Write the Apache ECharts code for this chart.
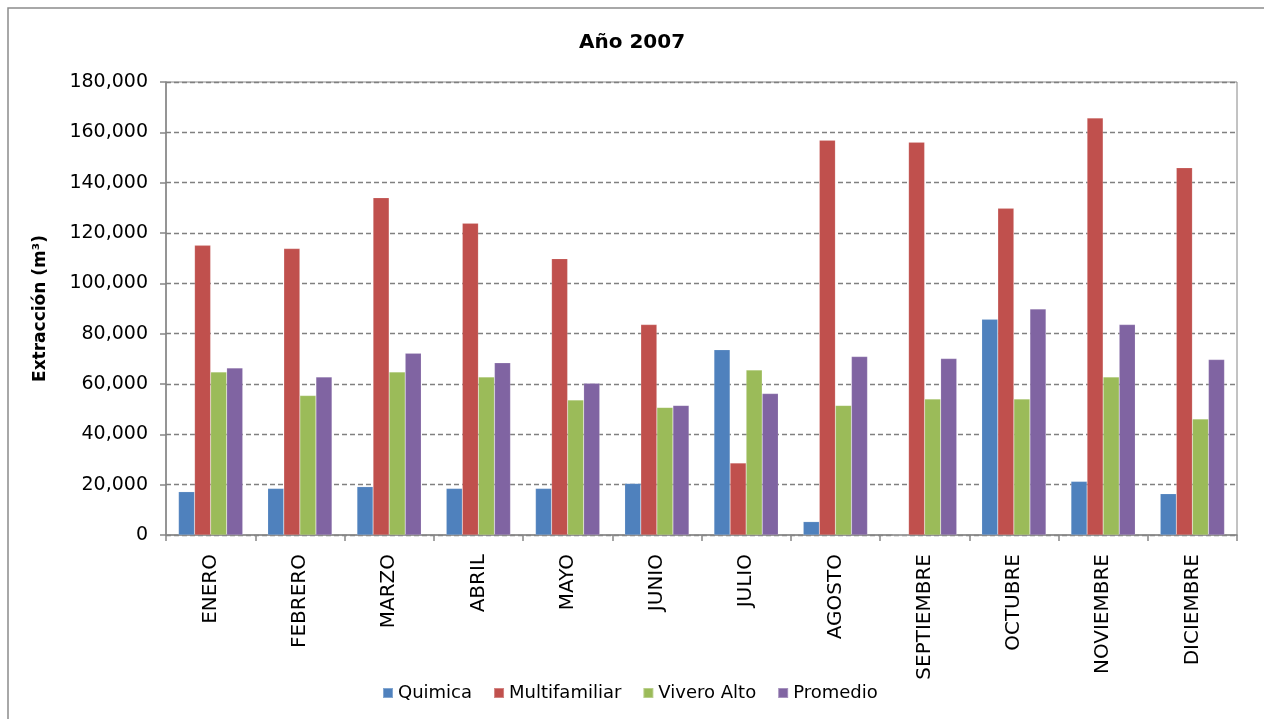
<!DOCTYPE html>
<html>
<head>
<meta charset="utf-8">
<script src="https://cdn.jsdelivr.net/npm/echarts@6/dist/echarts.min.js"></script>
<style>
html,body{margin:0;padding:0;background:#fff;}
#chart{width:1264px;height:719px;}
</style>
</head>
<body>
<div id="chart"></div>
<script>
const categories = ['ENERO','FEBRERO','MARZO','ABRIL','MAYO','JUNIO','JULIO','AGOSTO','SEPTIEMBRE','OCTUBRE','NOVIEMBRE','DICIEMBRE'];
const quimica      = [17200, 18500, 19200, 18500, 18500, 20500, 73600, 5300, 0, 85700, 21300, 16400];
const multifamiliar= [115100, 113800, 134000, 123900, 109800, 83600, 28600, 156900, 156100, 129800, 165700, 145900];
const viveroAlto   = [64800, 55400, 64800, 62800, 53650, 50700, 65600, 51500, 54000, 54000, 62800, 46100];
const promedio     = [66400, 62800, 72200, 68400, 60300, 51500, 56200, 70900, 70100, 89800, 83600, 69700];
const seriesNames  = ['Quimica','Multifamiliar','Vivero Alto','Promedio'];
const yTicks = { min: 0, max: 180000, interval: 20000 };

const FONT = 'DejaVu Sans';
const colors = ['#4F81BD','#C0504D','#9BBB59','#8064A2'];
const chart = echarts.init(document.getElementById('chart'), null, {renderer:'canvas'});
const dataSets = [quimica, multifamiliar, viveroAlto, promedio];

chart.setOption({
  animation: false,
  backgroundColor: '#ffffff',
  color: colors,
  title: {
    text: 'Año 2007',
    left: 'center',
    top: 28,
    textStyle: { fontFamily: FONT, fontWeight: 'bold', fontSize: 20, color: '#000' }
  },
  graphic: [{
    type: 'rect',
    shape: { x: 8, y: 8, width: 1400, height: 900 },
    style: { fill: 'none', stroke: '#8c8c8c', lineWidth: 1.5 },
    silent: true
  }],
  legend: {
    data: seriesNames,
    left: 377,
    top: 679,
    itemWidth: 10,
    itemHeight: 10,
    itemGap: 21,
    icon: 'rect',
    textStyle: { fontFamily: FONT, fontSize: 18, color: '#000' }
  },
  grid: {
    left: 166, right: 27, top: 82, bottom: 184,
    show: true, borderColor: '#868686', borderWidth: 1, backgroundColor: 'transparent'
  },
  xAxis: {
    type: 'category',
    data: categories,
    axisLine: { lineStyle: { color: '#868686', width: 1.5 } },
    axisTick: { show: true, alignWithLabel: false, length: 6, lineStyle: { color: '#868686', width: 1.5 } },
    axisLabel: { rotate: 90, margin: 19, fontFamily: FONT, fontSize: 20, color: '#000', interval: 0 }
  },
  yAxis: {
    type: 'value',
    min: yTicks.min, max: yTicks.max, interval: yTicks.interval,
    name: 'Extracción (m³)',
    nameLocation: 'middle',
    nameGap: 117,
    nameTextStyle: { fontFamily: FONT, fontWeight: 'bold', fontSize: 17, color: '#000' },
    axisLine: { show: true, lineStyle: { color: '#868686', width: 1.5 } },
    axisTick: { show: true, length: 6, lineStyle: { color: '#868686', width: 1.5 } },
    axisLabel: {
      margin: 18, fontFamily: FONT, fontSize: 19, color: '#000',
      formatter: v => v.toLocaleString('en-US')
    },
    splitLine: { show: true, lineStyle: { color: '#808080', type: [5,3], width: 1.3 } }
  },
  series: seriesNames.map((n, i) => ({
    name: n,
    type: 'bar',
    data: dataSets[i],
    barGap: '0%',
    barCategoryGap: '28%',
    itemStyle: { color: colors[i], borderColor: 'rgba(255,255,255,0.3)', borderWidth: 0.5 }
  }))
});
</script>
</body>
</html>
